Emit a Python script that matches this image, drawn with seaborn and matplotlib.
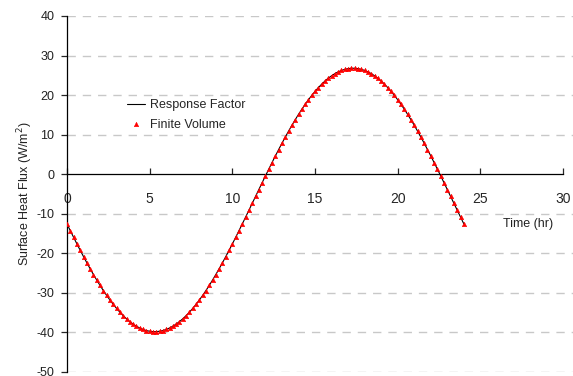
import numpy as np
import pandas as pd
import matplotlib
matplotlib.use('Agg')
import matplotlib.pyplot as plt
import seaborn as sns

# time axis, 0.2 hr steps from 0 to 24 hr
time_hr = np.round(np.arange(0, 24.01, 0.2), 1)

# surface heat flux (W/m2)
flux_rf = [
    -12.57, -14.27, -15.96, -17.62, -19.24, -20.84, -22.39, -23.90, -25.36, -26.77,
    -28.13, -29.42, -30.66, -31.82, -32.92, -33.94, -34.89, -35.77, -36.56, -37.27,
    -37.89, -38.43, -38.88, -39.24, -39.52, -39.70, -39.79,
    -39.79, -39.70, -39.52, -39.24, -38.88, -38.43, -37.89, -37.27, -36.56, -35.77,
    -34.89, -33.94, -32.92, -31.82, -30.66, -29.42, -28.13, -26.77, -25.36, -23.90,
    -22.39, -20.84, -19.24, -17.62, -15.96, -14.27, -12.57, -10.85, -9.11, -7.37,
    -5.63, -3.89, -2.15, -0.43, 1.27, 2.96, 4.62, 6.24, 7.84, 9.39,
    10.90, 12.36, 13.77, 15.13, 16.42, 17.65, 18.82, 19.92, 20.94, 21.89,
    22.76, 23.56, 24.27, 24.89, 25.43, 25.88, 26.24, 26.51, 26.70, 26.79,
    26.79, 26.70, 26.51, 26.24, 25.88, 25.43, 24.89, 24.27, 23.56, 22.76,
    21.89, 20.94, 19.92, 18.82, 17.65, 16.42, 15.13, 13.77, 12.36, 10.90,
    9.39, 7.84, 6.24, 4.62, 2.96, 1.27, -0.43, -2.15, -3.89, -5.63,
    -7.37, -9.11, -10.85, -12.57,
]
# finite volume results overlap the response factor curve
flux_fv = list(flux_rf)

x_ticks = [0, 5, 10, 15, 20, 25, 30]
y_ticks = [-50, -40, -30, -20, -10, 0, 10, 20, 30, 40]

sns.set_style('white')
plt.rcParams['font.family'] = ['Liberation Sans', 'DejaVu Sans']
fs = 9

df = pd.DataFrame({'time': time_hr, 'rf': flux_rf, 'fv': flux_fv})

fig = plt.figure(figsize=(5.73, 3.76), dpi=100)
ax = fig.add_axes([67 / 573, 4 / 376, 506 / 573, 356 / 376])

# dashed horizontal grid
for yv in y_ticks:
    if yv != 0:
        ax.axhline(yv, color='#c8c8c8', lw=1.0, ls=(0, (6, 5)), zorder=0)

sns.lineplot(data=df, x='time', y='rf', color='black', lw=0.8, ax=ax,
             label='Response Factor', zorder=2)
sns.scatterplot(data=df, x='time', y='fv', marker='^', s=10, color='red',
                edgecolor='red', linewidth=0.4, ax=ax, label='Finite Volume', zorder=3)

ax.set_xlim(0, 30.6)
ax.set_ylim(-50, 40)
ax.set_xticks(x_ticks)
ax.set_yticks(y_ticks)
ax.set_xticklabels([str(v) for v in x_ticks], fontsize=fs, color='#222222')
ax.set_yticklabels([str(v) for v in y_ticks], fontsize=fs, color='#222222')

for s in ['top', 'right']:
    ax.spines[s].set_visible(False)
ax.spines['bottom'].set_position(('data', 0))
ax.spines['bottom'].set_bounds(0, 30)
for s in ['left', 'bottom']:
    ax.spines[s].set_color('black')
    ax.spines[s].set_linewidth(0.9)

ax.tick_params(axis='x', direction='in', length=4, width=0.9, pad=13, bottom=True)
ax.tick_params(axis='y', direction='out', length=4, width=0.9, pad=5, left=True)

ax.set_xlabel('')
ax.set_ylabel('Surface Heat Flux (W/m$^2$)', fontsize=fs, color='#222222', labelpad=1)
ax.text(27.9, -12.6, 'Time (hr)', fontsize=fs, color='#222222', ha='center', va='center')

ax.legend(frameon=False, loc='center left', bbox_to_anchor=(0.108, 0.722),
          fontsize=fs, handlelength=1.45, handletextpad=0.4, labelspacing=0.6,
          borderaxespad=0)

fig.savefig('out.png', dpi=100)
